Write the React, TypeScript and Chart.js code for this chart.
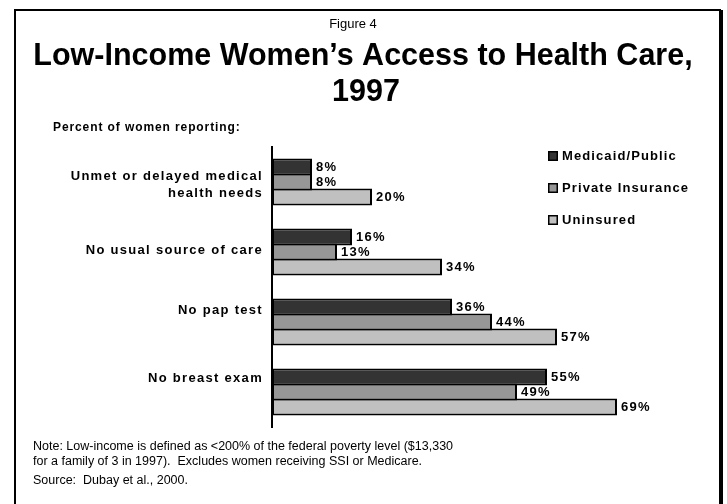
import React, { useEffect, useRef } from "react";
import { Chart, registerables } from "chart.js";

Chart.register(...registerables);

// ---- data ----
const categories: (string | string[])[] = [
  ["Unmet or delayed medical", "health needs"],
  "No usual source of care",
  "No pap test",
  "No breast exam",
];
const seriesLabels = ["Medicaid/Public", "Private Insurance", "Uninsured"];
const medicaidPublic = [8, 16, 36, 55];
const privateInsurance = [8, 13, 44, 49];
const uninsured = [20, 34, 57, 69];

const figureLabel = "Figure 4";
const titleLines = ["Low-Income Women\u2019s Access to Health Care,", "1997"];
const axisCaption = "Percent of women reporting:";
const noteLines = [
  "Note: Low-income is defined as <200% of the federal poverty level ($13,330",
  "for a family of 3 in 1997).  Excludes women receiving SSI or Medicare.",
];
const sourceLine = "Source:  Dubay et al., 2000.";

// ---- styles ----
const seriesColors = ["#333333", "#969696", "#c0c0c0"];
const FONT = '"Liberation Sans", Arial, Helvetica, sans-serif';
const tickLineHeights = ["17px", "10px", "30px", "34px"];
const tickExtraLine = [false, true, true, true];

const decorPlugin = {
  id: "decor",
  beforeDraw(chart: any) {
    const ctx = chart.ctx as CanvasRenderingContext2D;
    ctx.save();
    ctx.fillStyle = "#000";
    ctx.fillRect(14, 9, 707, 2);
    ctx.fillRect(14, 9, 2, 495);
    ctx.fillRect(719, 10, 4, 494);
    ctx.restore();
    (ctx as any).letterSpacing = "1.3px";
  },
  afterDatasetsDraw(chart: any) {
    const ctx = chart.ctx as CanvasRenderingContext2D;
    ctx.save();
    (ctx as any).letterSpacing = "1.3px";
    ctx.font = `bold 13px ${FONT}`;
    ctx.fillStyle = "#000";
    ctx.textAlign = "left";
    ctx.textBaseline = "middle";
    chart.data.datasets.forEach((ds: any, di: number) => {
      const meta = chart.getDatasetMeta(di);
      meta.data.forEach((el: any, i: number) => {
        ctx.fillText(`${ds.data[i]}%`, el.x + 4, el.y);
      });
    });
    ctx.restore();
  },
  afterDraw(chart: any) {
    const ctx = chart.ctx as CanvasRenderingContext2D;
    ctx.save();
    (ctx as any).letterSpacing = "0px";
    ctx.fillStyle = "#000";
    ctx.textBaseline = "alphabetic";
    // titles
    ctx.textAlign = "center";
    ctx.font = `13px ${FONT}`;
    ctx.fillText(figureLabel, 353, 28);
    ctx.font = `bold 30.5px ${FONT}`;
    ctx.fillText(titleLines[0], 363, 65);
    ctx.fillText(titleLines[1], 366, 101);
    // caption
    ctx.textAlign = "left";
    (ctx as any).letterSpacing = "0.9px";
    ctx.font = `bold 12px ${FONT}`;
    ctx.fillText(axisCaption, 53, 131);
    // footnotes
    (ctx as any).letterSpacing = "0px";
    ctx.font = `12.5px ${FONT}`;
    ctx.textBaseline = "middle";
    ctx.fillText(noteLines[0], 33, 447);
    ctx.fillText(noteLines[1], 33, 462);
    ctx.fillText(sourceLine, 33, 481);
    // legend
    (ctx as any).letterSpacing = "1.1px";
    ctx.font = `bold 13px ${FONT}`;
    chart.data.datasets.forEach((ds: any, i: number) => {
      const cy = 156 + i * 32;
      ctx.fillStyle = "#000";
      ctx.fillRect(548, cy - 5, 10, 10);
      ctx.fillStyle = ds.backgroundColor;
      ctx.fillRect(549.5, cy - 3.5, 7, 7);
      ctx.fillStyle = "#000";
      ctx.fillText(ds.label, 562, cy);
    });
    ctx.restore();
  },
};

export default function App() {
  const canvasRef = useRef<HTMLCanvasElement | null>(null);

  useEffect(() => {
    if (!canvasRef.current) return;
    const seriesValues = [medicaidPublic, privateInsurance, uninsured];
    const chart = new Chart(canvasRef.current, {
      type: "bar",
      data: {
        labels: categories as any,
        datasets: seriesLabels.map((label, i) => ({
          label,
          data: seriesValues[i],
          backgroundColor: seriesColors[i],
          borderColor: "#000",
          borderWidth: 2,
          borderSkipped: false,
          categoryPercentage: 0.643,
          barPercentage: 1.133,
        })),
      },
      options: {
        indexAxis: "y",
        responsive: false,
        animation: false,
        devicePixelRatio: 1,
        layout: { padding: { left: 0, right: 55, top: 147, bottom: 77 } },
        plugins: {
          legend: { display: false },
          title: { display: false },
          tooltip: { enabled: false },
        },
        scales: {
          x: { display: false, min: 0, max: 80 },
          y: {
            grid: { display: false, drawTicks: false },
            border: { display: true, color: "#000", width: 2 },
            ticks: {
              color: "#000",
              padding: 9,
              labelOffset: 3,
              autoSkip: false,
              font: (c: any) => ({
                family: FONT,
                size: 13,
                weight: "bold",
                lineHeight: tickLineHeights[c.index] ?? "17px",
              }),
              callback: function (this: any, value: any, index: number) {
                const lab = this.getLabelForValue(value);
                const lines = Array.isArray(lab) ? [...lab] : [lab];
                if (tickExtraLine[index]) lines.push("");
                return lines;
              },
            },
            afterFit: (scale: any) => {
              scale.width = 272;
            },
          },
        },
      } as any,
      plugins: [decorPlugin],
    });
    return () => chart.destroy();
  }, []);

  return (
    <div style={{ position: "absolute", left: 0, top: 0, width: 727, height: 504, background: "#fff" }}>
      <canvas ref={canvasRef} width={727} height={504} style={{ display: "block" }} />
    </div>
  );
}
